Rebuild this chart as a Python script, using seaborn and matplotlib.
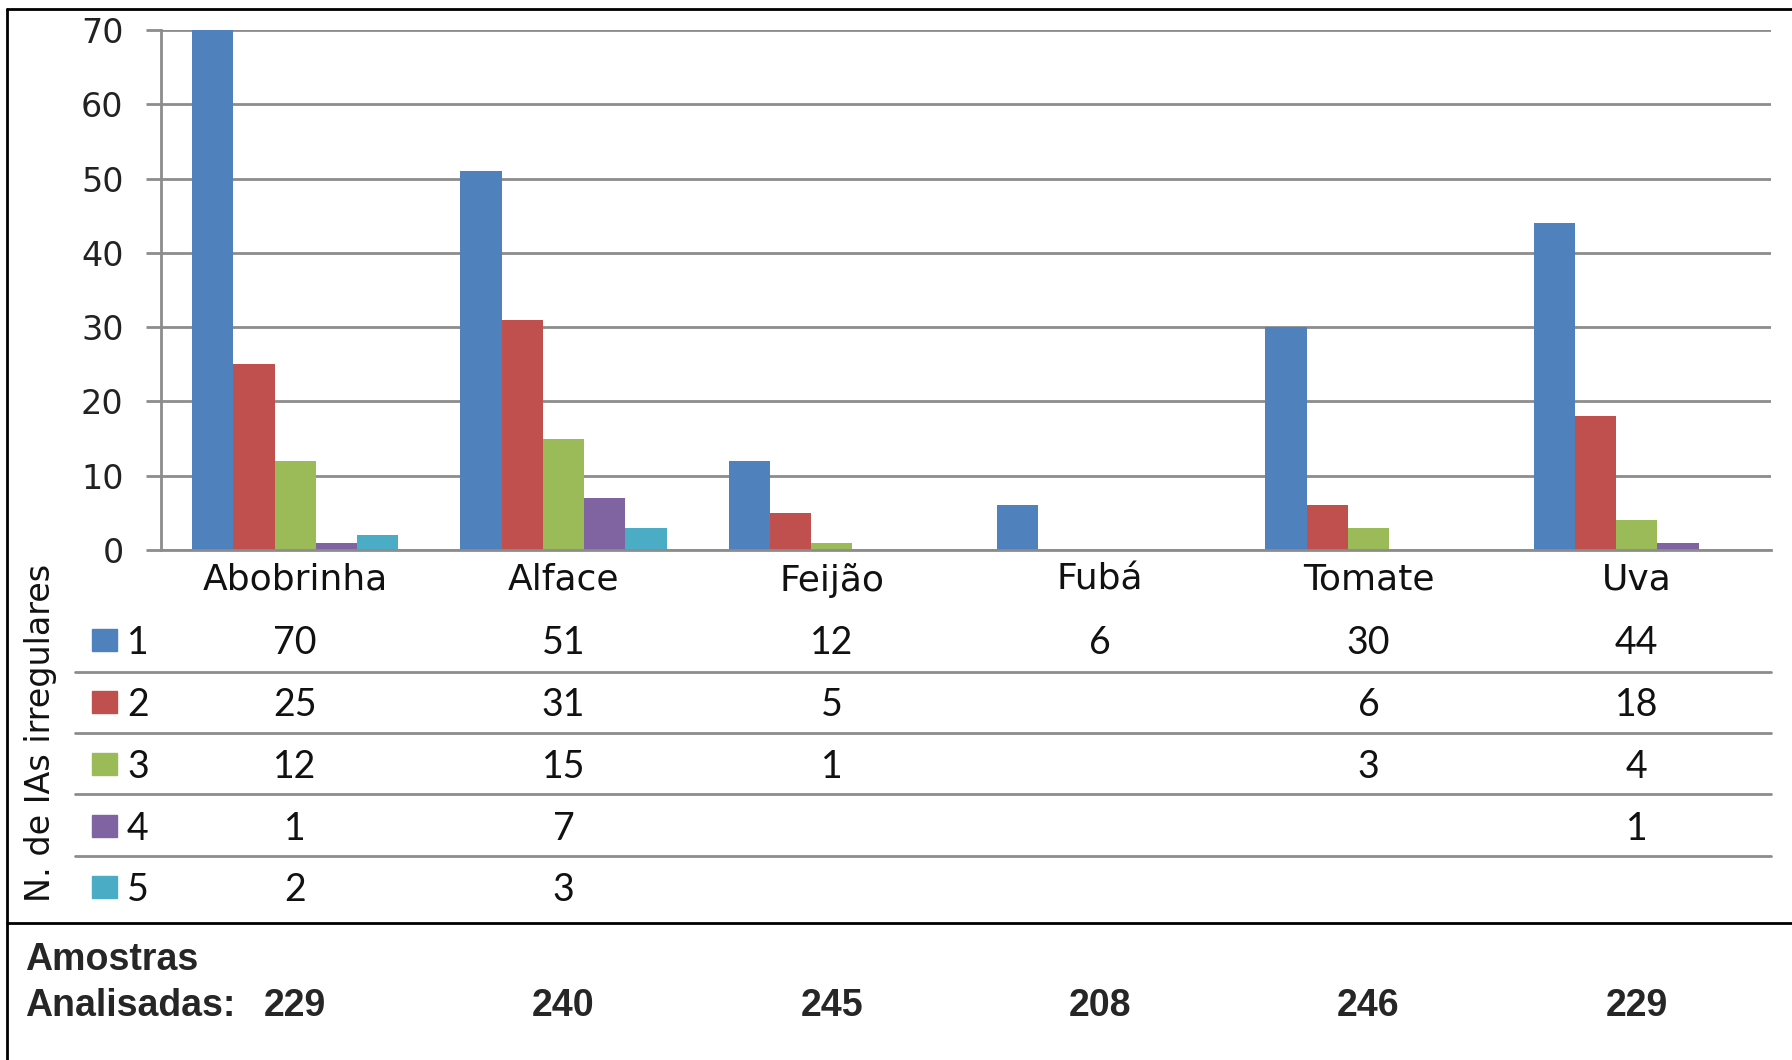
import pandas as pd
import matplotlib.pyplot as plt
import seaborn as sns
from matplotlib.lines import Line2D
from matplotlib.patches import Rectangle
from matplotlib.transforms import blended_transform_factory

# data
categories = ["Abobrinha", "Alface", "Feijão", "Fubá", "Tomate", "Uva"]
series_names = ["1", "2", "3", "4", "5"]
n1 = [70, 51, 12, 6, 30, 44]
n2 = [25, 31, 5, 0, 6, 18]
n3 = [12, 15, 1, 0, 3, 4]
n4 = [1, 7, 0, 0, 0, 1]
n5 = [2, 3, 0, 0, 0, 0]
amostras = [229, 240, 245, 208, 246, 229]
colors = ["#4F81BD", "#C0504D", "#9BBB59", "#8064A2", "#4BACC6"]

series = [n1, n2, n3, n4, n5]
rows = []
for name, vals in zip(series_names, series):
    for cat, v in zip(categories, vals):
        rows.append({"categoria": cat, "n": name, "valor": v})
df = pd.DataFrame(rows)

sns.set_style("white")
plt.rcParams["font.family"] = ["DejaVu Sans"]

W, H = 1792, 1060
fig = plt.figure(figsize=(W / 100, H / 100), dpi=100)


def fx(px):
    return px / W


def fy(py):
    return 1 - py / H


ax_left, ax_right, ax_top, ax_bottom = 161, 1771, 30, 550
ax = fig.add_axes([fx(ax_left), fy(ax_bottom), fx(ax_right - ax_left), fy(ax_top) - fy(ax_bottom)])

sns.barplot(data=df, x="categoria", y="valor", hue="n", palette=colors,
            width=0.77, gap=0, linewidth=0, saturation=1, ax=ax, legend=False)

ax.set_ylim(0, 70)
ax.set_xlim(-0.5, len(categories) - 0.5)
ax.set_yticks(range(0, 71, 10))
ax.yaxis.grid(True, color="#8c8c8c", linewidth=2)
ax.set_axisbelow(True)
for side in ["top", "right"]:
    ax.spines[side].set_visible(False)
for side in ["left", "bottom"]:
    ax.spines[side].set_color("#8c8c8c")
    ax.spines[side].set_linewidth(2)
ax.tick_params(axis="y", length=11, width=2, color="#8c8c8c", pad=16,
               labelsize=24, labelcolor="#222222", left=True)
ax.tick_params(axis="x", length=0, pad=9, labelsize=26, labelcolor="#111111")
ax.set_xlabel("")
ax.set_ylabel("")

# data table below the chart
tr = blended_transform_factory(ax.transData, fig.transFigure)
row_y = [643, 705, 767, 829, 890]
sep_y = [672, 733, 794, 856]
for i, (name, vals) in enumerate(zip(series_names, series)):
    y = fy(row_y[i])
    fig.patches.append(Rectangle((fx(92), fy(row_y[i] + 8)), fx(25), fy(row_y[i] - 14) - fy(row_y[i] + 8),
                                 transform=fig.transFigure, color=colors[i], figure=fig))
    fig.text(fx(127), y, name, fontsize=27, family="Lato", va="center", ha="left", color="#111111")
    for j, v in enumerate(vals):
        if v:
            ax.text(j, y, str(v), transform=tr, fontsize=27, family="Lato",
                    ha="center", va="center", color="#111111")
for y in sep_y:
    fig.add_artist(Line2D([fx(75), fx(ax_right)], [fy(y), fy(y)], color="#8c8c8c", linewidth=2))

fig.text(fx(41), fy(733), "N. de IAs irregulares", rotation=90, fontsize=24,
         ha="center", va="center", color="#111111")

# black separator, frame and sample counts
fig.add_artist(Line2D([fx(7), 1], [fy(923), fy(923)], color="black", linewidth=2))
fig.add_artist(Line2D([fx(7), fx(7)], [fy(9), 0], color="black", linewidth=2))
fig.add_artist(Line2D([fx(7), 1], [fy(9), fy(9)], color="black", linewidth=2))

fig.text(fx(25), fy(960), "Amostras", fontsize=27, family="Liberation Sans",
         weight="bold", va="center", ha="left")
fig.text(fx(25), fy(1006), "Analisadas:", fontsize=27, family="Liberation Sans",
         weight="bold", va="center", ha="left")
for j, a in enumerate(amostras):
    ax.text(j, fy(1006), str(a), transform=tr, fontsize=27, family="Liberation Sans",
            weight="bold", ha="center", va="center")

fig.savefig("out.png", dpi=100, facecolor="white")
